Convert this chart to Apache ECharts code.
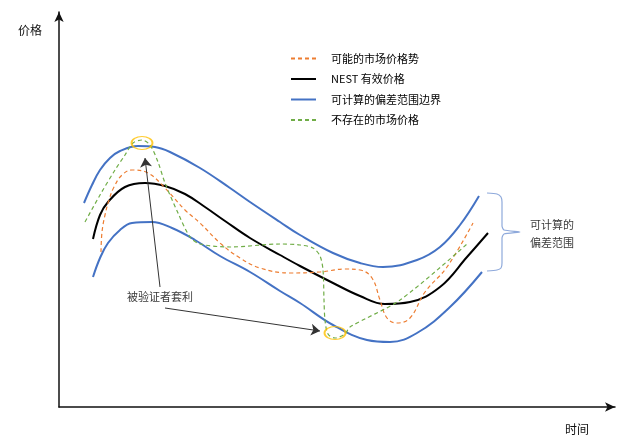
<!DOCTYPE html>
<html>
<head>
<meta charset="utf-8">
<script src="https://cdn.jsdelivr.net/npm/echarts@6/dist/echarts.min.js"></script>
<style>
html,body{margin:0;padding:0;background:#fff;}
#c{width:628px;height:441px;}
</style>
</head>
<body>
<div id="c"></div>
<script>
// Series names (legend)
const seriesNames = ['可能的市场价格势', 'NEST 有效价格', '可计算的偏差范围边界', '不存在的市场价格'];

// [time, price] readings (abstract units)
const possibleTrend = [[42,155],[43,175],[46,192],[50,207],[55,220],[63,232],[73,237],[89,234],[106,219],[126,197],[141,184],[161,164],[181,149],[201,139],[231,134],[261,135],[286,138],[301,137],[313,129],[321,107],[328,89],[338,84],[351,89],[366,115],[388,140],[414,184]];
const nestPrice = [[34,168],[41,192],[49,205],[66,220],[86,224],[106,221],[126,213],[146,200],[166,186],[191,169],[221,152],[241,141],[274,124],[301,111],[326,103],[351,105],[381,120],[408,150],[429,174]];
const upperBound = [[25,204],[33,222],[41,237],[51,249],[61,256],[79,261],[96,260],[111,255],[141,239],[171,219],[191,205],[221,185],[241,172],[274,154],[301,144],[324,140],[358,147],[381,160],[401,182],[420,211]];
const lowerBound = [[34,130],[41,149],[49,164],[61,177],[73,184],[93,185],[113,179],[136,167],[161,151],[191,135],[221,116],[241,104],[274,82],[308,67],[331,65],[358,74],[391,100],[423,135]];
const nonexistentPrice = [[26,185],[41,212],[56,237],[66,252],[74,264],[83,267],[91,262],[99,245],[106,224],[119,194],[131,170],[141,163],[171,160],[221,163],[241,162],[254,159],[261,151],[264,137],[265,107],[266,87],[269,73],[276,69],[286,73],[291,80],[341,107],[408,163]];

// Arbitrage points (highlighted) and annotation arrows
const arbitragePoints = [[83,264],[276,74]];
const arrowLines = [[[101,120],[86,249]], [[106,99],[261,76]]];
const arbitrageLabel = [[101,110]];
const arbitrageText = '被验证者套利';

// Brace marking the calculable deviation range
const braceOutline = [[428,214],[438,213],[442,210],[443,205],[443,181],[445,177],[461,175],[445,173],[443,169],[443,144],[442,139],[438,137],[428,136]];
const rangeLabel = [[493,173]];
const rangeText = '可计算的\n偏差范围';

const axisNames = {x: '时间', y: '价格'};
const xRange = [0, 556];
const yRange = [0, 395];

const FONT = '"Noto Sans CJK SC", "Noto Sans", sans-serif';
const chart = echarts.init(document.getElementById('c'));

chart.setOption({
  animation: false,
  backgroundColor: '#fff',
  textStyle: {fontFamily: FONT},
  grid: {left: 59, right: 13, top: 12, bottom: 34, containLabel: false},
  legend: {
    data: seriesNames,
    orient: 'vertical',
    left: 285,
    top: 48,
    itemWidth: 25,
    itemHeight: 12,
    itemGap: 9.5,
    itemStyle: {opacity: 0},
    textStyle: {fontSize: 11, color: '#000', fontFamily: FONT, padding: [0,0,0,10]}
  },
  xAxis: {
    type: 'value', min: xRange[0], max: xRange[1],
    name: axisNames.x, nameLocation: 'end', nameGap: -50,
    nameTextStyle: {fontSize: 12, color: '#111', align: 'left', verticalAlign: 'top', padding: [16,0,0,0], fontFamily: FONT},
    axisLine: {show: true, onZero: false, symbol: ['none','arrow'], symbolSize: [7,10], lineStyle: {color: '#111', width: 1.5}},
    axisTick: {show: false}, axisLabel: {show: false}, splitLine: {show: false}
  },
  yAxis: {
    type: 'value', min: yRange[0], max: yRange[1],
    name: axisNames.y, nameLocation: 'end', nameGap: -18,
    nameTextStyle: {fontSize: 12, color: '#111', align: 'right', verticalAlign: 'middle', padding: [0,17,0,0], fontFamily: FONT},
    axisLine: {show: true, onZero: false, symbol: ['none','arrow'], symbolSize: [7,10], lineStyle: {color: '#111', width: 1.5}},
    axisTick: {show: false}, axisLabel: {show: false}, splitLine: {show: false}
  },
  series: [
    {name: seriesNames[2], type: 'line', data: upperBound, smooth: 0.4, symbol: 'none',
     lineStyle: {color: '#4472C4', width: 2}, itemStyle: {color: '#4472C4'}, z: 2},
    {name: seriesNames[2], type: 'line', data: lowerBound, smooth: 0.4, symbol: 'none',
     lineStyle: {color: '#4472C4', width: 2}, itemStyle: {color: '#4472C4'}, z: 2},
    {name: seriesNames[1], type: 'line', data: nestPrice, smooth: 0.4, symbol: 'none',
     lineStyle: {color: '#000', width: 2}, itemStyle: {color: '#000'}, z: 3},
    {name: seriesNames[0], type: 'line', data: possibleTrend, smooth: 0.4, symbol: 'none',
     lineStyle: {color: '#ED7D31', width: 1.2, type: [4,3]}, itemStyle: {color: '#ED7D31'}, z: 4},
    {name: seriesNames[3], type: 'line', data: nonexistentPrice, smooth: 0.3, symbol: 'none',
     lineStyle: {color: '#70AD47', width: 1.2, type: [4,3]}, itemStyle: {color: '#70AD47'}, z: 4},
    {name: 'brace', type: 'line', data: braceOutline, smooth: 0.2, symbol: 'none',
     lineStyle: {color: '#8EA9DB', width: 1.2}, silent: true, z: 2},
    {name: 'arb', type: 'scatter', data: arbitragePoints, symbol: 'circle', symbolSize: [21,13],
     itemStyle: {color: 'rgba(0,0,0,0)', borderColor: '#FFC000', borderWidth: 1.5}, z: 6},
    {name: 'arrows', type: 'lines', coordinateSystem: 'cartesian2d',
     data: arrowLines.map(c => ({coords: c})), symbol: ['none','arrow'], symbolSize: 9,
     lineStyle: {color: '#333', width: 1, opacity: 1}, z: 5},
    {name: 'arbLabel', type: 'scatter', data: arbitrageLabel, symbolSize: 1,
     itemStyle: {color: 'rgba(0,0,0,0)'},
     label: {show: true, position: 'inside', formatter: arbitrageText, fontSize: 11, color: '#000', fontFamily: FONT}, z: 7},
    {name: 'rangeLabel', type: 'scatter', data: rangeLabel, symbolSize: 1,
     itemStyle: {color: 'rgba(0,0,0,0)'},
     label: {show: true, position: 'inside', formatter: rangeText, fontSize: 11, lineHeight: 18, color: '#000', fontFamily: FONT}, z: 7}
  ]
});
</script>
</body>
</html>
